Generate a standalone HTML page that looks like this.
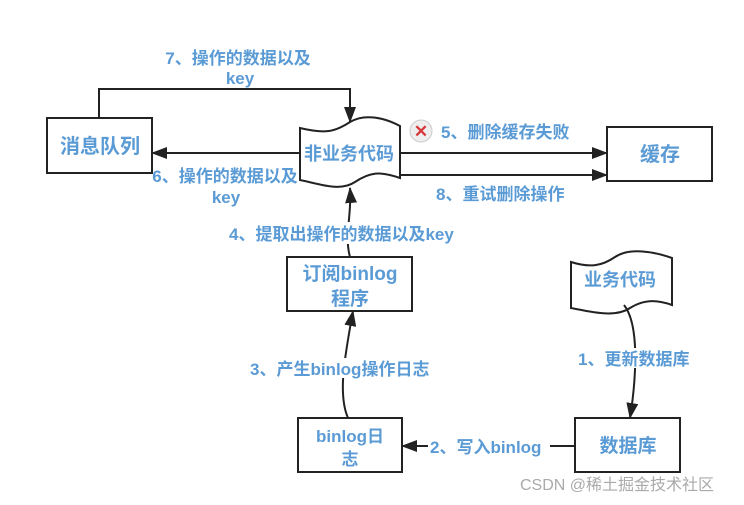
<!DOCTYPE html>
<html><head><meta charset="utf-8"><style>
html,body{margin:0;padding:0;background:#fff;}
svg{display:block;}
text{font-family:"Liberation Sans","Noto Sans CJK SC",sans-serif;font-weight:bold;fill:#5b9bd5;}
</style></head><body>
<svg width="744" height="505" viewBox="0 0 744 505" xmlns="http://www.w3.org/2000/svg">
<defs>
<marker id="b" markerWidth="16" markerHeight="12" refX="15" refY="6" orient="auto" markerUnits="userSpaceOnUse">
<path d="M0,0 L16,6 L0,12 Z" fill="#222"/></marker>
</defs>
<g fill="none" stroke="#222" stroke-width="2">
<rect x="47" y="118" width="105" height="55" fill="#fff"/>
<rect x="607" y="127" width="105" height="54" fill="#fff"/>
<rect x="287" y="257" width="125" height="54" fill="#fff"/>
<rect x="298" y="418" width="104" height="54" fill="#fff"/>
<rect x="575" y="418" width="105" height="54" fill="#fff"/>
<path d="M300,128 C325,134 335,132 350,122 C365,113 385,118 400,126 L400,178 C380,171 370,172 355,182 C340,192 320,184 300,180 Z" fill="#fff"/>
<path d="M571,262 C590,268 602,266 615,257 C630,247 655,252 672,258 L672,305 C655,299 643,300 630,308 C615,318 592,312 571,308 Z" fill="#fff"/>
<path d="M99,118 L99,89 L350,89 L350,122" marker-end="url(#b)"/>
<path d="M300,153 L152,153" marker-end="url(#b)"/>
<path d="M400,153 L607,153" marker-end="url(#b)"/>
<path d="M400,175 L607,175" marker-end="url(#b)"/>
<path d="M350,257 C344,235 352,215 350,188" marker-end="url(#b)"/>
<path d="M348,418 C338,395 344,360 353,311" marker-end="url(#b)"/>
<path d="M575,446 L402,446" marker-end="url(#b)"/>
<path d="M624,305 C640,325 636,380 630,418" marker-end="url(#b)"/>
</g>
<rect x="250" y="358" width="195" height="20" fill="#fff"/>
<rect x="578" y="348" width="112" height="20" fill="#fff"/>
<rect x="228" y="222" width="242" height="22" fill="#fff"/>
<rect x="428" y="436" width="122" height="20" fill="#fff"/>
<circle cx="421" cy="131" r="11" fill="#eee" stroke="#ccc"/>
<text x="421" y="137" text-anchor="middle" style="fill:#d9383a;font-size:17px">✕</text>
<g font-size="17">
<text x="100" y="153" text-anchor="middle" font-size="20">消息队列</text>
<text x="660" y="161" text-anchor="middle" font-size="20">缓存</text>
<text x="349" y="160" text-anchor="middle" font-size="18">非业务代码</text>
<text x="620" y="286" text-anchor="middle" font-size="18">业务代码</text>
<text x="350" y="280" text-anchor="middle" font-size="19">订阅binlog</text>
<text x="350" y="305" text-anchor="middle" font-size="19">程序</text>
<text x="350" y="442" text-anchor="middle">binlog日</text>
<text x="350" y="465" text-anchor="middle">志</text>
<text x="628" y="452" text-anchor="middle" font-size="19">数据库</text>
<text x="238" y="64" text-anchor="middle">7、操作的数据以及</text>
<text x="240" y="84" text-anchor="middle">key</text>
<text x="225" y="182" text-anchor="middle">6、操作的数据以及</text>
<text x="226" y="203" text-anchor="middle">key</text>
<text x="441" y="138">5、删除缓存失败</text>
<text x="436" y="200">8、重试删除操作</text>
<text x="229" y="240">4、提取出操作的数据以及key</text>
<text x="250" y="375">3、产生binlog操作日志</text>
<text x="578" y="365">1、更新数据库</text>
<text x="430" y="453">2、写入binlog</text>
</g>
<text x="520" y="490" style="fill:#aaa;font-weight:normal;font-size:16px">CSDN @稀土掘金技术社区</text>
</svg>
</body></html>
